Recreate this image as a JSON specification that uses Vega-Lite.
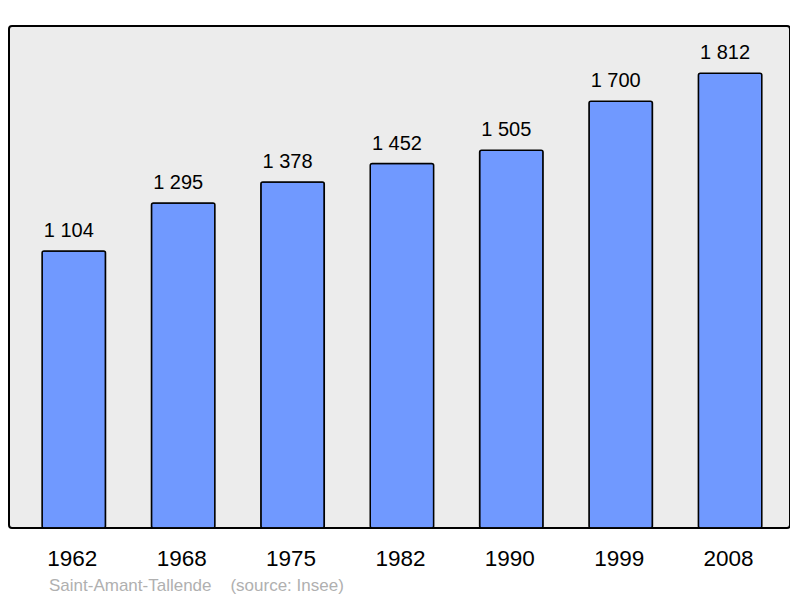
{
  "$schema": "https://vega.github.io/schema/vega-lite/v6.json",
  "width": 781,
  "height": 502,
  "padding": {"left": 9, "top": 26, "right": 0, "bottom": 0},
  "background": "white",
  "data": {
    "values": [
      {"year": "1962", "pop": 1104, "label": "1 104"},
      {"year": "1968", "pop": 1295, "label": "1 295"},
      {"year": "1975", "pop": 1378, "label": "1 378"},
      {"year": "1982", "pop": 1452, "label": "1 452"},
      {"year": "1990", "pop": 1505, "label": "1 505"},
      {"year": "1999", "pop": 1700, "label": "1 700"},
      {"year": "2008", "pop": 1812, "label": "1 812"}
    ]
  },
  "title": {
    "text": "Saint-Amant-Tallende\u00a0\u00a0\u00a0\u00a0(source: Insee)",
    "orient": "bottom",
    "anchor": "start",
    "frame": "group",
    "dx": 40,
    "offset": 8,
    "font": "Liberation Sans",
    "fontSize": 17,
    "fontWeight": "normal",
    "color": "#b0b0b0"
  },
  "encoding": {
    "x": {
      "field": "year",
      "type": "ordinal",
      "scale": {"paddingInner": 0.42, "paddingOuter": 0.28, "align": 0.54},
      "axis": {
        "title": null,
        "domain": false,
        "ticks": false,
        "labelAngle": 0,
        "labelFont": "Liberation Sans",
        "labelFontSize": 22.5,
        "labelColor": "black",
        "labelBaseline": "alphabetic",
        "labelPadding": 37,
        "labelOffset": -1.5
      }
    },
    "y": {
      "field": "pop",
      "type": "quantitative",
      "scale": {"domain": [0, 2000], "nice": false},
      "axis": null
    }
  },
  "layer": [
    {
      "mark": {
        "type": "bar",
        "color": "#7099ff",
        "stroke": "black",
        "strokeWidth": 1.5,
        "cornerRadius": 2
      }
    },
    {
      "mark": {
        "type": "text",
        "baseline": "alphabetic",
        "dy": -14,
        "dx": -5,
        "font": "Liberation Sans",
        "fontSize": 20,
        "color": "black"
      },
      "encoding": {"text": {"field": "label"}}
    }
  ],
  "config": {
    "view": {
      "fill": "#ececec",
      "stroke": "black",
      "strokeWidth": 2,
      "cornerRadius": 3
    }
  }
}
